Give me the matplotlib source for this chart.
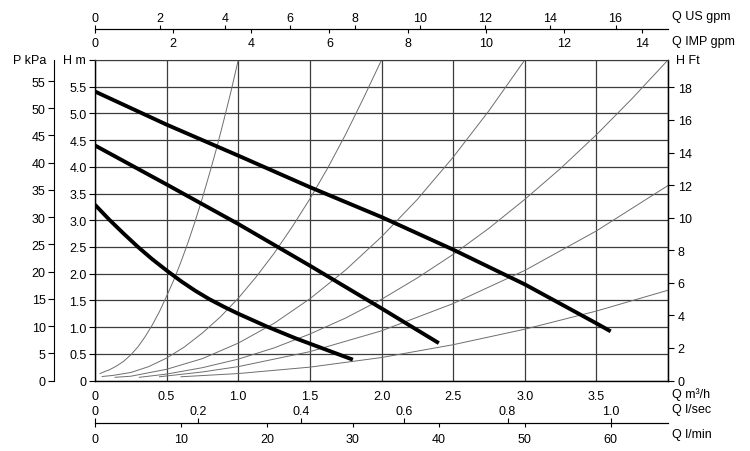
import matplotlib.pyplot as plt
import numpy as np

plt.rcParams['font.family'] = ['Liberation Sans', 'DejaVu Sans']
plt.rcParams['font.size'] = 9

# pump curves : Q in m3/h, H in m
q_low = [0, 0.1, 0.2, 0.3, 0.4, 0.5, 0.6, 0.7, 0.8, 0.9, 1.0, 1.1, 1.2, 1.3, 1.4, 1.5, 1.6, 1.7, 1.8]
h_low = [3.29, 3.01, 2.75, 2.50, 2.27, 2.06, 1.86, 1.68, 1.52, 1.38, 1.25, 1.13, 1.01, 0.90, 0.79,
         0.69, 0.59, 0.49, 0.39]
q_mid = [0, 0.5, 1.0, 1.5, 2.0, 2.4]
h_mid = [4.40, 3.67, 2.93, 2.15, 1.35, 0.70]
q_high = [0, 0.5, 1.0, 1.5, 2.0, 2.5, 3.0, 3.5, 3.6]
h_high = [5.41, 4.79, 4.21, 3.62, 3.06, 2.45, 1.80, 1.07, 0.92]

# system curves (thin grey)
q_sys1 = [0.035, 0.07, 0.1, 0.15, 0.2, 0.25, 0.3, 0.35, 0.4, 0.45, 0.5, 0.55, 0.6, 0.65, 0.7,
          0.75, 0.8, 0.85, 0.9, 0.95, 1.0]
h_sys1 = [0.13, 0.17, 0.20, 0.27, 0.36, 0.48, 0.63, 0.82, 1.04, 1.29, 1.58, 1.88, 2.22, 2.59, 2.99,
          3.42, 3.88, 4.36, 4.88, 5.42, 6.0]
q_sys2 = [0.05, 0.125, 0.25, 0.375, 0.5, 0.625, 0.75, 0.875, 1.0, 1.125, 1.25, 1.375, 1.5, 1.625,
          1.75, 1.875, 2.0]
h_sys2 = [0.075, 0.095, 0.15, 0.26, 0.42, 0.63, 0.89, 1.19, 1.54, 1.94, 2.38, 2.87, 3.40, 3.98,
          4.61, 5.29, 6.0]
q_sys3 = [0.14, 0.25, 0.5, 0.75, 1.0, 1.25, 1.5, 1.75, 2.0, 2.25, 2.5, 2.75, 3.0]
h_sys3 = [0.06, 0.08, 0.21, 0.41, 0.70, 1.07, 1.53, 2.07, 2.69, 3.39, 4.18, 5.05, 6.0]
q_sys4 = [0.31, 0.5, 0.75, 1.0, 1.25, 1.5, 1.75, 2.0, 2.25, 2.5, 2.75, 3.0, 3.25, 3.5, 3.75, 4.0]
h_sys4 = [0.06, 0.12, 0.24, 0.40, 0.61, 0.87, 1.17, 1.52, 1.92, 2.36, 2.85, 3.39, 3.97, 4.60, 5.28, 6.0]
q_sys5 = [0.45, 0.75, 1.0, 1.5, 2.0, 2.5, 3.0, 3.5, 4.0]
h_sys5 = [0.07, 0.16, 0.26, 0.54, 0.93, 1.44, 2.06, 2.80, 3.65]
q_sys6 = [0.6, 1.0, 1.5, 2.0, 2.5, 3.0, 3.5, 4.0]
h_sys6 = [0.07, 0.13, 0.25, 0.43, 0.67, 0.96, 1.30, 1.69]

W, H = 750, 452


def px(x, y):
    return x / W, 1 - y / H


fig = plt.figure(figsize=(7.5, 4.52), dpi=100)
ax = fig.add_axes([95 / W, 1 - 381.5 / H, 573 / W, 320.5 / H])
ax.set_xlim(0, 4.0)
ax.set_ylim(0, 6.0)

ax.set_xticks(np.arange(0, 4.01, 0.5))
ax.set_xticklabels(['0', '0.5', '1.0', '1.5', '2.0', '2.5', '3.0', '3.5', ''])
ax.set_yticks(np.arange(0, 6.01, 0.5))
ax.set_yticklabels(['0'] + [f'{v:.1f}' for v in np.arange(0.5, 5.51, 0.5)] + [''])
ax.tick_params(axis='y', length=4, width=0.8, pad=2)
ax.tick_params(axis='x', length=0, pad=6.5)
ax.grid(True, color='#3c3c3c', lw=0.9)
ax.set_axisbelow(True)
for s in ['left', 'bottom', 'right']:
    ax.spines[s].set_linewidth(1.0)
ax.spines['top'].set_color('#3c3c3c')

for q, h in [(q_sys1, h_sys1), (q_sys2, h_sys2), (q_sys3, h_sys3),
             (q_sys4, h_sys4), (q_sys5, h_sys5), (q_sys6, h_sys6)]:
    ax.plot(q, h, color='#6e6e6e', lw=0.7)

for q, h in [(q_low, h_low), (q_mid, h_mid), (q_high, h_high)]:
    ax.plot(q, h, color='black', lw=2.8, solid_capstyle='butt', solid_joinstyle='round')

# right axis H Ft
ft = ax.secondary_yaxis('right', functions=(lambda m: m / 0.3048, lambda f: f * 0.3048))
ft.set_ticks(np.arange(0, 18.1, 2))
ft.tick_params(length=4, width=0.8, pad=3)

# left axis P kPa
kpa = ax.secondary_yaxis(-41 / 573, functions=(lambda m: m * 9.81, lambda p: p / 9.81))
kpa.set_ticks(np.arange(0, 56, 5))
kpa.tick_params(length=4, width=0.8, pad=2)

# top axes : US gpm and IMP gpm
top_loc = 1 + 31 / 320.5
us = ax.secondary_xaxis(top_loc, functions=(lambda q: q * 4.403, lambda g: g / 4.403))
us.set_ticks(np.arange(0, 16.1, 2))
us.tick_params(length=3, width=0.8, pad=0.6)
imp = ax.secondary_xaxis(top_loc, functions=(lambda q: q * 3.666, lambda g: g / 3.666))
imp.set_alignment('bottom')
imp.set_ticks(np.arange(0, 14.1, 2))
imp.tick_params(length=3, width=0.8, pad=3)

# bottom axes : l/sec and l/min
bot_loc = -(424 - 381.5) / 320.5
lmin = ax.secondary_xaxis(bot_loc, functions=(lambda q: q * 1000 / 60, lambda l: l * 60 / 1000))
lmin.set_ticks(np.arange(0, 61, 10))
lmin.tick_params(length=3, width=0.8, pad=4)
lsec = ax.secondary_xaxis(bot_loc, functions=(lambda q: q / 3.6, lambda l: l * 3.6))
lsec.set_alignment('top')
lsec.set_ticks(np.arange(0, 1.01, 0.2))
lsec.set_xticklabels(['0', '0.2', '0.4', '0.6', '0.8', '1.0'])
lsec.tick_params(length=3.6, width=0.8, pad=0.5)

# axis titles
fig.text(*px(13, 61), 'P kPa', va='center', ha='left')
fig.text(*px(63, 61), 'H m', va='center', ha='left')
fig.text(*px(676, 61), 'H Ft', va='center', ha='left')
fig.text(*px(672, 17), 'Q US gpm', va='center', ha='left')
fig.text(*px(672, 42), 'Q IMP gpm', va='center', ha='left')
fig.text(*px(672, 395), 'Q m³/h', va='center', ha='left')
fig.text(*px(672, 410), 'Q l/sec', va='center', ha='left')
fig.text(*px(672, 435), 'Q l/min', va='center', ha='left')

fig.savefig('out.png', dpi=100)
